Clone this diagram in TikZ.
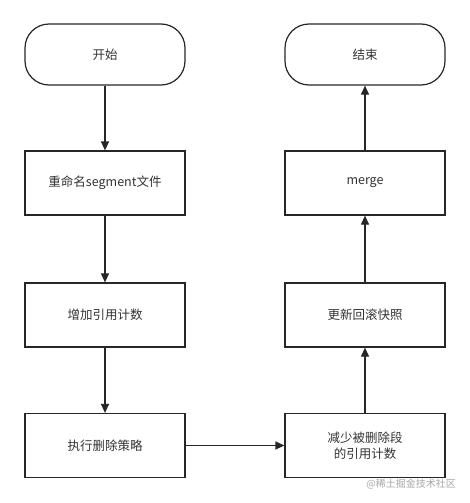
\documentclass[tikz,border=0pt]{standalone}
\usepackage{fontspec}
\setmainfont{Noto Sans CJK SC}
\usetikzlibrary{arrows.meta}
\begin{document}
\begin{tikzpicture}[x=1pt,y=-1pt,
  box/.style={draw=black!85,line width=1.2pt,minimum width=160pt,minimum height=64pt,align=center,font=\fontsize{12.5}{16}\selectfont,text=black!80},
  term/.style={box,rounded corners=24pt,minimum height=61pt},
  arr/.style={draw=black!85,line width=1.2pt,-{Triangle[length=9pt,width=8pt]}}]
\useasboundingbox (0,0) rectangle (470,503);
\node[term] (start) at (105,54.5) {开始};
\node[box] (rename) at (105,183) {重命名segment文件};
\node[box] (incr) at (105,315) {增加引用计数};
\node[box] (exec) at (105,445.5) {执行删除策略};
\node[box] (decr) at (365,445.5) {减少被删除段\\的引用计数};
\node[box] (snap) at (365,315) {更新回滚快照};
\node[box] (merge) at (365,183) {merge};
\node[term] (end) at (365,54.5) {结束};
\draw[arr] (start) -- (rename);
\draw[arr] (rename) -- (incr);
\draw[arr] (incr) -- (exec);
\draw[arr] (exec) -- (decr);
\draw[arr] (decr) -- (snap);
\draw[arr] (snap) -- (merge);
\draw[arr] (merge) -- (end);
\node[anchor=east,text=black!35,font=\fontsize{10}{12}\selectfont,inner sep=0pt] (wm) at (456,484) {@稀土掘金技术社区};
\end{tikzpicture}
\end{document}
